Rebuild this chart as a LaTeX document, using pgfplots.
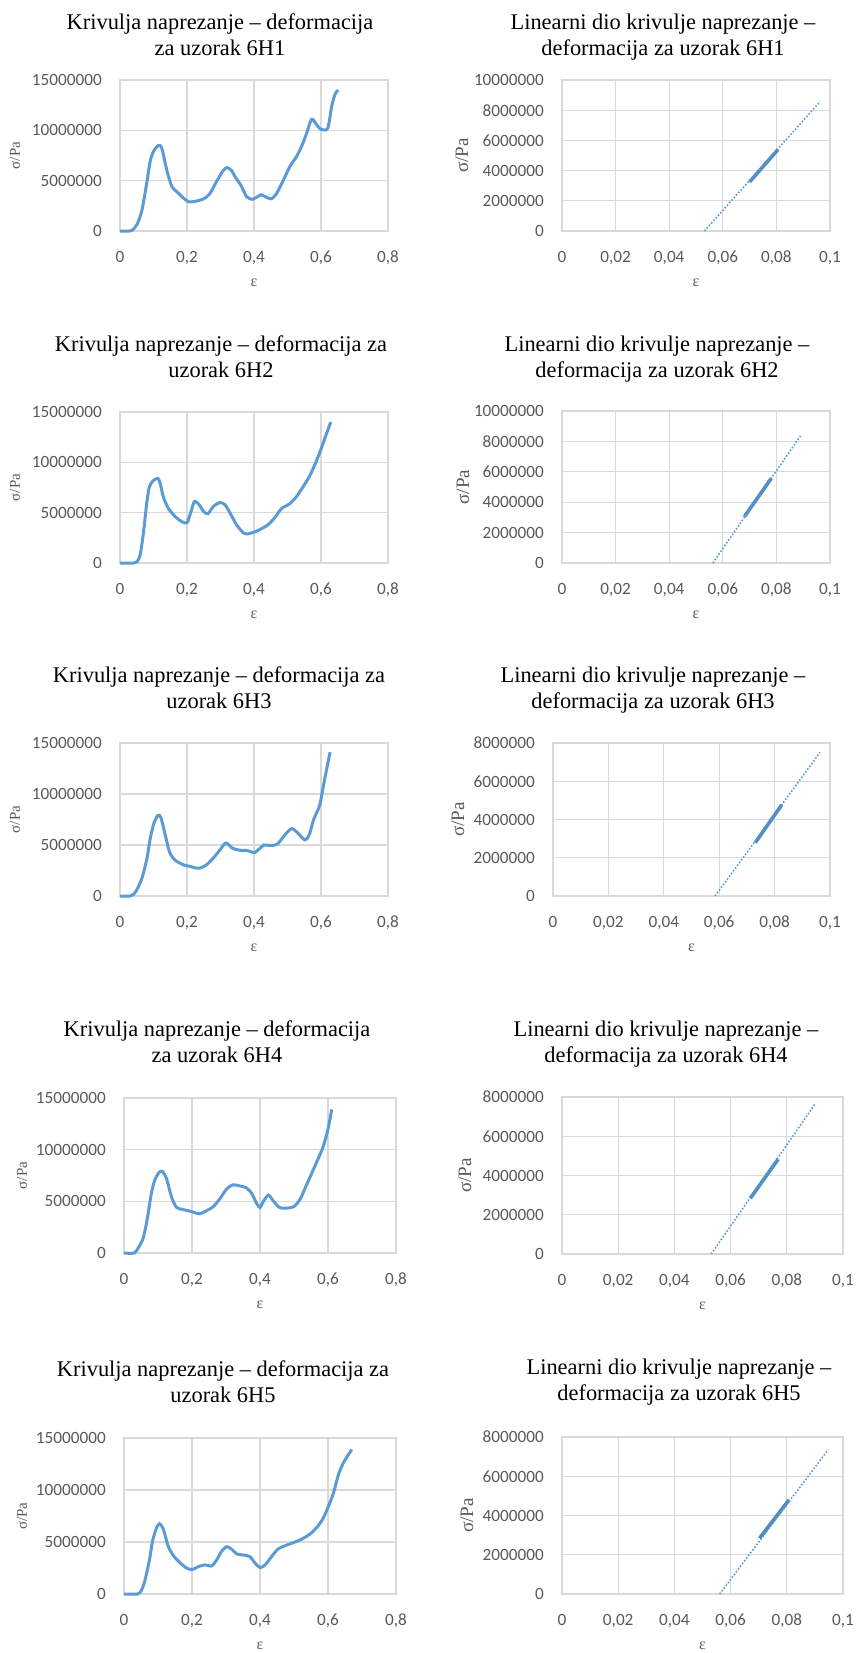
\documentclass[border=0pt]{standalone}
\usepackage{fontspec}
\setmainfont{Liberation Serif}
\newfontfamily\carlito{Carlito}
\usepackage{pgfplots}
\pgfplotsset{compat=1.18}
\definecolor{lineblue}{HTML}{5B9BD5}
\definecolor{gridc}{HTML}{D9D9D9}
\definecolor{tickc}{HTML}{595959}
\pgfplotsset{
  panel/.style={
    scale only axis, anchor=south west, clip=false,
    axis line style={draw=gridc, line width=0.6pt},
    major tick length=0pt,
    grid=major, grid style={draw=gridc, line width=0.6pt},
    tick label style={font=\carlito\fontsize{8.6}{10}\selectfont, text=tickc},
    scaled x ticks=false, scaled y ticks=false,
    xticklabel style={yshift=-6.4pt},
    yticklabel style={xshift=-5.6pt},
    xlabel={ε},
    xlabel style={at={(axis description cs:0.5,0)}, anchor=center, yshift=-26pt, font=\fontsize{8}{9}\selectfont, text=tickc},
  },
  leftp/.style={panel,
    xmin=0, xmax=0.8, ymin=0, ymax=15000000,
    xtick={0,0.2,0.4,0.6,0.8}, xticklabels={0,{0,2},{0,4},{0,6},{0,8}},
    ytick={0,5000000,10000000,15000000}, yticklabels={0,5000000,10000000,15000000},
    ylabel={σ/Pa},
    ylabel style={at={(axis description cs:#1,0.5)}, anchor=center, font=\fontsize{7.5}{9}\selectfont, text=tickc},
  },
  rightp/.style={panel,
    xmin=0, xmax=0.1, ymin=0,
    xtick={0,0.02,0.04,0.06,0.08,0.1}, xticklabels={0,{0,02},{0,04},{0,06},{0,08},{0,1}},
    ylabel={σ/Pa},
    ylabel style={at={(axis description cs:#1,0.5)}, anchor=center, font=\fontsize{9.5}{11}\selectfont, text=tickc},
  },
  r10/.style={ymax=10000000, ytick={0,2000000,4000000,6000000,8000000,10000000},
    yticklabels={0,2000000,4000000,6000000,8000000,10000000}},
  r8/.style={ymax=8000000, ytick={0,2000000,4000000,6000000,8000000},
    yticklabels={0,2000000,4000000,6000000,8000000}},
  curve/.style={lineblue, line width=1.5pt, smooth, tension=0.45},
  trend/.style={lineblue, line width=0.8pt, dash pattern=on 0.8pt off 0.9pt},
  datseg/.style={lineblue!90!black, line width=1.8pt},
}
\newcommand{\ttl}[4]{%
  \node[anchor=base, font=\fontsize{11.2}{13}\selectfont] at (#1*0.5pt,-#2*0.5pt) {#3};
  \node[anchor=base, font=\fontsize{11.2}{13}\selectfont] at (#1*0.5pt,-#2*0.5pt-26*0.5pt) {#4};}
\begin{document}
\begin{tikzpicture}
% ---------- row 1 ----------
\begin{axis}[leftp=-0.392, at={(60pt,-115.5pt)}, width=134pt, height=75.5pt]
\addplot[curve] coordinates {(0,0) (0.02,0) (0.035,50000) (0.05,600000) (0.065,2000000) (0.08,4800000) (0.09,6900000) (0.1,7900000) (0.115,8500000) (0.125,8200000) (0.14,6000000) (0.155,4400000) (0.17,3900000) (0.185,3400000) (0.205,2900000) (0.225,2950000) (0.25,3200000) (0.268,3700000) (0.288,4900000) (0.308,6000000) (0.32,6300000) (0.333,6000000) (0.345,5300000) (0.36,4600000) (0.378,3400000) (0.395,3150000) (0.41,3400000) (0.422,3600000) (0.437,3350000) (0.452,3200000) (0.467,3700000) (0.487,5000000) (0.507,6400000) (0.527,7400000) (0.542,8400000) (0.557,9700000) (0.572,11100000) (0.586,10600000) (0.6,10100000) (0.62,10200000) (0.632,12400000) (0.642,13600000) (0.651,14000000)};
\end{axis}
\begin{axis}[rightp=-0.373, r10, at={(281pt,-115.5pt)}, width=134pt, height=75.5pt]
\addplot[datseg] coordinates {(0.070,3250000) (0.0806,5400000)};
\addplot[trend] coordinates {(0.0531,0) (0.0963,8560000)};
\end{axis}
% ---------- row 2 ----------
\begin{axis}[leftp=-0.392, at={(60pt,-281.5pt)}, width=134pt, height=75.5pt]
\addplot[curve] coordinates {(0,0) (0.04,0) (0.05,100000) (0.06,800000) (0.07,3000000) (0.08,6000000) (0.088,7600000) (0.1,8200000) (0.113,8400000) (0.12,7900000) (0.13,6500000) (0.145,5400000) (0.165,4600000) (0.185,4100000) (0.2,4000000) (0.21,4900000) (0.222,6100000) (0.236,5800000) (0.25,5100000) (0.263,4900000) (0.278,5600000) (0.298,6000000) (0.313,5800000) (0.328,5000000) (0.348,3800000) (0.368,3000000) (0.383,2900000) (0.403,3100000) (0.422,3400000) (0.442,3800000) (0.462,4500000) (0.482,5400000) (0.507,5900000) (0.527,6600000) (0.547,7600000) (0.567,8700000) (0.586,10100000) (0.601,11400000) (0.616,12800000) (0.629,14000000)};
\end{axis}
\begin{axis}[rightp=-0.37, r10, at={(281pt,-281.5pt)}, width=134pt, height=76pt]
\addplot[datseg] coordinates {(0.0681,3060000) (0.0781,5570000)};
\addplot[trend] coordinates {(0.0563,0) (0.0894,8470000)};
\end{axis}
% ---------- row 3 ----------
\begin{axis}[leftp=-0.392, at={(60pt,-448pt)}, width=134pt, height=76.5pt]
\addplot[curve] coordinates {(0,0) (0.03,0) (0.04,150000) (0.05,600000) (0.065,1700000) (0.08,3600000) (0.09,5600000) (0.101,7100000) (0.113,7900000) (0.122,7700000) (0.135,6000000) (0.148,4300000) (0.165,3500000) (0.19,3050000) (0.21,2900000) (0.225,2750000) (0.24,2750000) (0.258,3050000) (0.278,3700000) (0.298,4500000) (0.316,5200000) (0.335,4700000) (0.355,4500000) (0.38,4450000) (0.402,4250000) (0.415,4600000) (0.43,5000000) (0.45,4950000) (0.47,5100000) (0.495,6100000) (0.513,6600000) (0.53,6200000) (0.552,5500000) (0.565,6000000) (0.578,7500000) (0.596,8900000) (0.61,11300000) (0.627,14100000)};
\end{axis}
\begin{axis}[rightp=-0.343, r8, at={(276.5pt,-448pt)}, width=138.5pt, height=76.5pt]
\addplot[datseg] coordinates {(0.0730,2790000) (0.0826,4770000)};
\addplot[trend] coordinates {(0.0585,0) (0.0964,7510000)};
\end{axis}
% ---------- row 4 ----------
\begin{axis}[leftp=-0.375, at={(62pt,-626.5pt)}, width=136pt, height=77.5pt]
\addplot[curve] coordinates {(0,0) (0.03,0) (0.042,500000) (0.057,1500000) (0.07,3600000) (0.08,5700000) (0.09,7000000) (0.103,7800000) (0.113,7900000) (0.125,7200000) (0.14,5400000) (0.155,4400000) (0.175,4200000) (0.2,4000000) (0.222,3800000) (0.243,4100000) (0.263,4500000) (0.283,5300000) (0.302,6200000) (0.32,6600000) (0.34,6500000) (0.36,6300000) (0.375,5800000) (0.39,4800000) (0.4,4400000) (0.41,5000000) (0.425,5600000) (0.44,5000000) (0.458,4400000) (0.48,4350000) (0.5,4500000) (0.518,5200000) (0.533,6300000) (0.552,7700000) (0.572,9200000) (0.586,10300000) (0.6,12000000) (0.611,13900000)};
\end{axis}
\begin{axis}[rightp=-0.345, r8, at={(281pt,-627pt)}, width=140.5pt, height=78.5pt]
\addplot[datseg] coordinates {(0.0670,2840000) (0.0769,4830000)};
\addplot[trend] coordinates {(0.0531,0) (0.0899,7610000)};
\end{axis}
% ---------- row 5 ----------
\begin{axis}[leftp=-0.375, at={(62pt,-797pt)}, width=136pt, height=78pt]
\addplot[curve] coordinates {(0,0) (0.04,0) (0.052,400000) (0.062,1350000) (0.075,3300000) (0.084,5100000) (0.095,6300000) (0.104,6750000) (0.115,6300000) (0.13,4600000) (0.145,3700000) (0.165,3000000) (0.184,2500000) (0.2,2350000) (0.22,2650000) (0.238,2800000) (0.258,2700000) (0.273,3300000) (0.287,4100000) (0.302,4550000) (0.317,4300000) (0.332,3850000) (0.352,3750000) (0.37,3600000) (0.386,2950000) (0.4,2550000) (0.415,2800000) (0.434,3600000) (0.454,4350000) (0.478,4700000) (0.503,5000000) (0.527,5350000) (0.552,5900000) (0.572,6600000) (0.586,7300000) (0.601,8400000) (0.616,9700000) (0.63,11400000) (0.645,12600000) (0.67,13900000)};
\end{axis}
\begin{axis}[rightp=-0.338, r8, at={(281pt,-797pt)}, width=140.5pt, height=78.5pt]
\addplot[datseg] coordinates {(0.0703,2840000) (0.0808,4800000)};
\addplot[trend] coordinates {(0.0561,0) (0.0947,7350000)};
\end{axis}
% ---------- titles ----------
\ttl{220}{30}{Krivulja naprezanje – deformacija}{za uzorak 6H1}
\ttl{663}{30}{Linearni dio krivulje naprezanje –}{deformacija za uzorak 6H1}
\ttl{221}{351}{Krivulja naprezanje – deformacija za}{uzorak 6H2}
\ttl{657}{351}{Linearni dio krivulje naprezanje –}{deformacija za uzorak 6H2}
\ttl{219}{682}{Krivulja naprezanje – deformacija za}{uzorak 6H3}
\ttl{653}{682}{Linearni dio krivulje naprezanje –}{deformacija za uzorak 6H3}
\ttl{217}{1036}{Krivulja naprezanje – deformacija}{za uzorak 6H4}
\ttl{666}{1036}{Linearni dio krivulje naprezanje –}{deformacija za uzorak 6H4}
\ttl{223}{1376}{Krivulja naprezanje – deformacija za}{uzorak 6H5}
\ttl{679}{1374}{Linearni dio krivulje naprezanje –}{deformacija za uzorak 6H5}
\pgfresetboundingbox
\path[use as bounding box] (0,0) rectangle (428pt,-826.5pt);
\end{tikzpicture}
\end{document}
